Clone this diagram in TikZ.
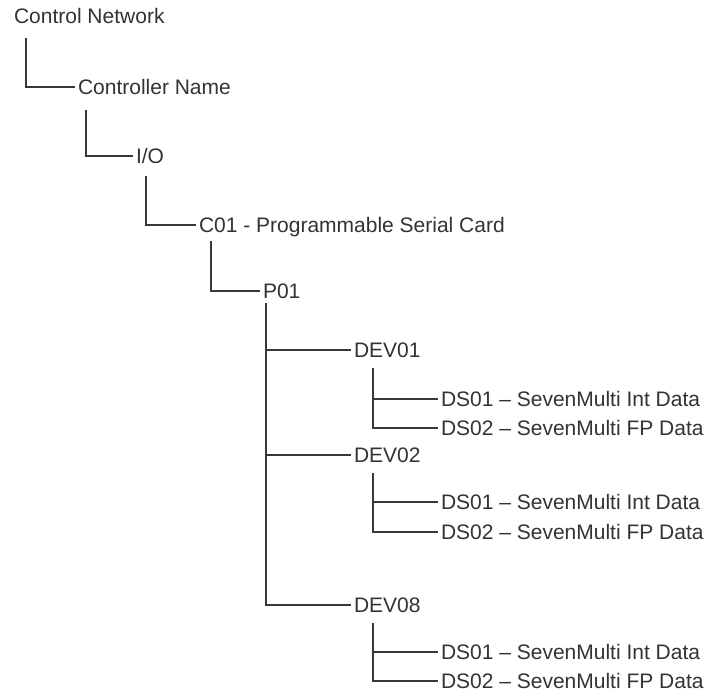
\documentclass[tikz,border=0pt]{standalone}
\usepackage{fontspec}
\setmainfont{Liberation Sans}

\tikzset{
  item/.style={anchor=west, inner sep=0pt, outer xsep=3pt, outer ysep=0pt,
    text height=15pt, text depth=0pt, text=black!80,
    font=\fontsize{21}{25}\selectfont},
  link/.style={draw=black!78, line width=1.6pt}
}

\begin{document}
\begin{tikzpicture}[x=1pt,y=-1pt]
  \useasboundingbox[fill=white] (0,0) rectangle (707,694);

  % upper levels of the tree
  \node[item] (net)  at (11,16)  {Control Network};
  \node[item] (ctrl) at (75,87)  {Controller Name};
  \node[item] (io)   at (133,156) {I/O};
  \node[item] (card) at (196,225) {C01 - Programmable Serial Card};
  \node[item] (port) at (260,291) {P01};

  % devices on the port
  \node[item] (dev01) at (351,350) {DEV01};
  \node[item] (dev02) at (351,455) {DEV02};
  \node[item] (dev08) at (351,605) {DEV08};

  % data sets
  \node[item] (ds11) at (438,399) {DS01 -- SevenMulti Int Data};
  \node[item] (ds12) at (438,428) {DS02 -- SevenMulti FP Data};
  \node[item] (ds21) at (438,502) {DS01 -- SevenMulti Int Data};
  \node[item] (ds22) at (438,532) {DS02 -- SevenMulti FP Data};
  \node[item] (ds81) at (438,652) {DS01 -- SevenMulti Int Data};
  \node[item] (ds82) at (438,681) {DS02 -- SevenMulti FP Data};

  \draw[link] ([xshift=15pt,yshift=-14.5pt]net.south west) |- (ctrl.west);
  \draw[link] ([xshift=11pt,yshift=-15.5pt]ctrl.south west) |- (io.west);
  \draw[link] ([xshift=13pt,yshift=-12.5pt]io.south west) |- (card.west);
  \draw[link] ([xshift=15pt,yshift=-8pt]card.south west) |- (port.west);

  \draw[link] ([xshift=6pt,yshift=-4pt]port.south west) coordinate (bus) |- (dev08.west);
  \draw[link] (dev01.west) -- (dev01.west -| bus);
  \draw[link] (dev02.west) -- (dev02.west -| bus);

  \draw[link] ([xshift=22pt,yshift=-10.5pt]dev01.south west) coordinate (s1) |- (ds12.west);
  \draw[link] (ds11.west) -- (ds11.west -| s1);
  \draw[link] ([xshift=22pt,yshift=-10.5pt]dev02.south west) coordinate (s2) |- (ds22.west);
  \draw[link] (ds21.west) -- (ds21.west -| s2);
  \draw[link] ([xshift=22pt,yshift=-10.5pt]dev08.south west) coordinate (s8) |- (ds82.west);
  \draw[link] (ds81.west) -- (ds81.west -| s8);
\end{tikzpicture}
\end{document}
